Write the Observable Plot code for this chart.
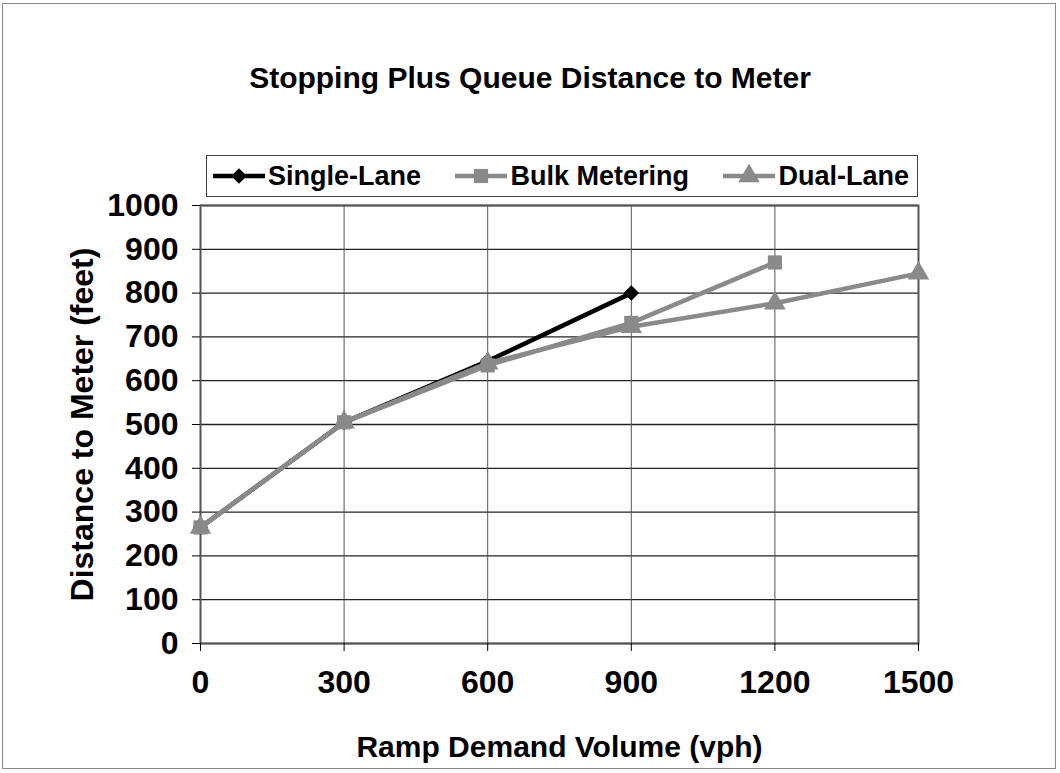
<!DOCTYPE html>
<html>
<head>
<meta charset="utf-8">
<script src="https://cdn.jsdelivr.net/npm/d3@7"></script>
<script src="https://cdn.jsdelivr.net/npm/@observablehq/plot@0.6"></script>
<style>
  html, body { margin: 0; padding: 0; background: #fff; }
  #wrap { position: relative; width: 1060px; height: 773px; overflow: hidden; font-family: "Liberation Sans", Arial, sans-serif; font-weight: bold; color: #000; }
  #border { position: absolute; left: 2px; top: 3px; width: 1054px; height: 766px; border: 1px solid #888; box-sizing: border-box; }
  #title { position: absolute; left: 0; width: 1060px; top: 60px; text-align: center; font-size: 30px; line-height: 36px; }
  #legend { position: absolute; left: 206px; top: 155px; width: 712px; height: 42px; border: 1.5px solid #444; box-sizing: border-box; display: flex; align-items: center; justify-content: space-between; padding: 0 8px 0 6px; font-size: 27px; white-space: nowrap; }
  #legend .item { display: flex; align-items: center; }
  #legend svg { margin-right: 3px; }
  #chart { position: absolute; left: 0; top: 195px; }
</style>
</head>
<body>
<div id="wrap">
  <div id="border"></div>
  <div id="title">Stopping Plus Queue Distance to Meter</div>
  <div id="legend"></div>
  <div id="chart"></div>
</div>
<script>
// Data
const volumes = [0, 300, 600, 900, 1200, 1500];
const seriesNames = ["Single-Lane", "Bulk Metering", "Dual-Lane"];
const singleLane = [265, 505, 645, 800];
const bulkMetering = [265, 505, 635, 732, 870];
const dualLane = [265, 505, 640, 723, 777, 845];
const xTicks = [0, 300, 600, 900, 1200, 1500];
const yTicks = [0, 100, 200, 300, 400, 500, 600, 700, 800, 900, 1000];

const seriesValues = [singleLane, bulkMetering, dualLane];
const colors = ["#000000", "#8a8a8a", "#8a8a8a"];
const symbols = ["diamond2", "square", "triangle"];
const radii = [7, 8, 8];
const widths = [4.5, 4.5, 4.5];
const drawOrder = [0, 2, 1];

const rows = [];
seriesValues.forEach((vals, i) => {
  vals.forEach((v, j) => rows.push({series: seriesNames[i], volume: volumes[j], dist: v}));
});

const marks = [
  Plot.gridY(yTicks, {stroke: "#222", strokeOpacity: 1, strokeWidth: 1.3}),
  Plot.gridX(xTicks, {stroke: "#555", strokeOpacity: 1, strokeWidth: 1}),
  Plot.frame({stroke: "#555", strokeWidth: 2}),
  Plot.axisX({ticks: xTicks, tickSize: 8, tickPadding: 19, fontSize: 32, fontWeight: "bold", label: null, tickFormat: d => String(d)}),
  Plot.axisY({ticks: yTicks, tickSize: 8, tickPadding: 14, fontSize: 32, fontWeight: "bold", label: null, tickFormat: d => String(d)}),
];
drawOrder.forEach(i => {
  const name = seriesNames[i];
  const data = rows.filter(r => r.series === name);
  marks.push(Plot.line(data, {x: "volume", y: "dist", stroke: colors[i], strokeWidth: widths[i]}));
  marks.push(Plot.dot(data, {x: "volume", y: "dist", symbol: () => symbols[i], fill: colors[i], stroke: "none", r: radii[i]}));
});
marks.push(Plot.text(["Ramp Demand Volume (vph)"], {frameAnchor: "bottom", dy: 104, lineAnchor: "middle", textAnchor: "middle", fontSize: 30, fontWeight: "bold", fill: "#000"}));
marks.push(Plot.text(["Distance to Meter (feet)"], {frameAnchor: "left", dx: -118, lineAnchor: "middle", textAnchor: "middle", rotate: -90, fontSize: 32, fontWeight: "bold", fill: "#000"}));

const chart = Plot.plot({
  width: 1060,
  height: 578,
  marginTop: 10,
  marginLeft: 200,
  marginRight: 142,
  marginBottom: 130,
  style: {fontFamily: "'Liberation Sans', Arial, sans-serif", fontWeight: "bold", color: "#000", background: "transparent", overflow: "visible"},
  x: {domain: [0, 1500]},
  y: {domain: [0, 1000]},
  marks
});
document.getElementById("chart").appendChild(chart);

// Legend
const legend = document.getElementById("legend");
const d3Symbols = [d3.symbolDiamond2, d3.symbolSquare, d3.symbolTriangle];
seriesNames.forEach((name, i) => {
  const item = document.createElement("div");
  item.className = "item";
  const w = 52, h = 24;
  const sym = d3.symbol().type(d3Symbols[i]).size(Math.PI * radii[i] * radii[i]);
  item.innerHTML = `<svg width="${w}" height="${h}"><line x1="0" x2="${w}" y1="${h/2}" y2="${h/2}" stroke="${colors[i]}" stroke-width="${widths[i]}"/><path d="${sym()}" transform="translate(${w/2},${h/2})" fill="${colors[i]}"/></svg><span>${name}</span>`;
  legend.appendChild(item);
});
</script>
</body>
</html>
